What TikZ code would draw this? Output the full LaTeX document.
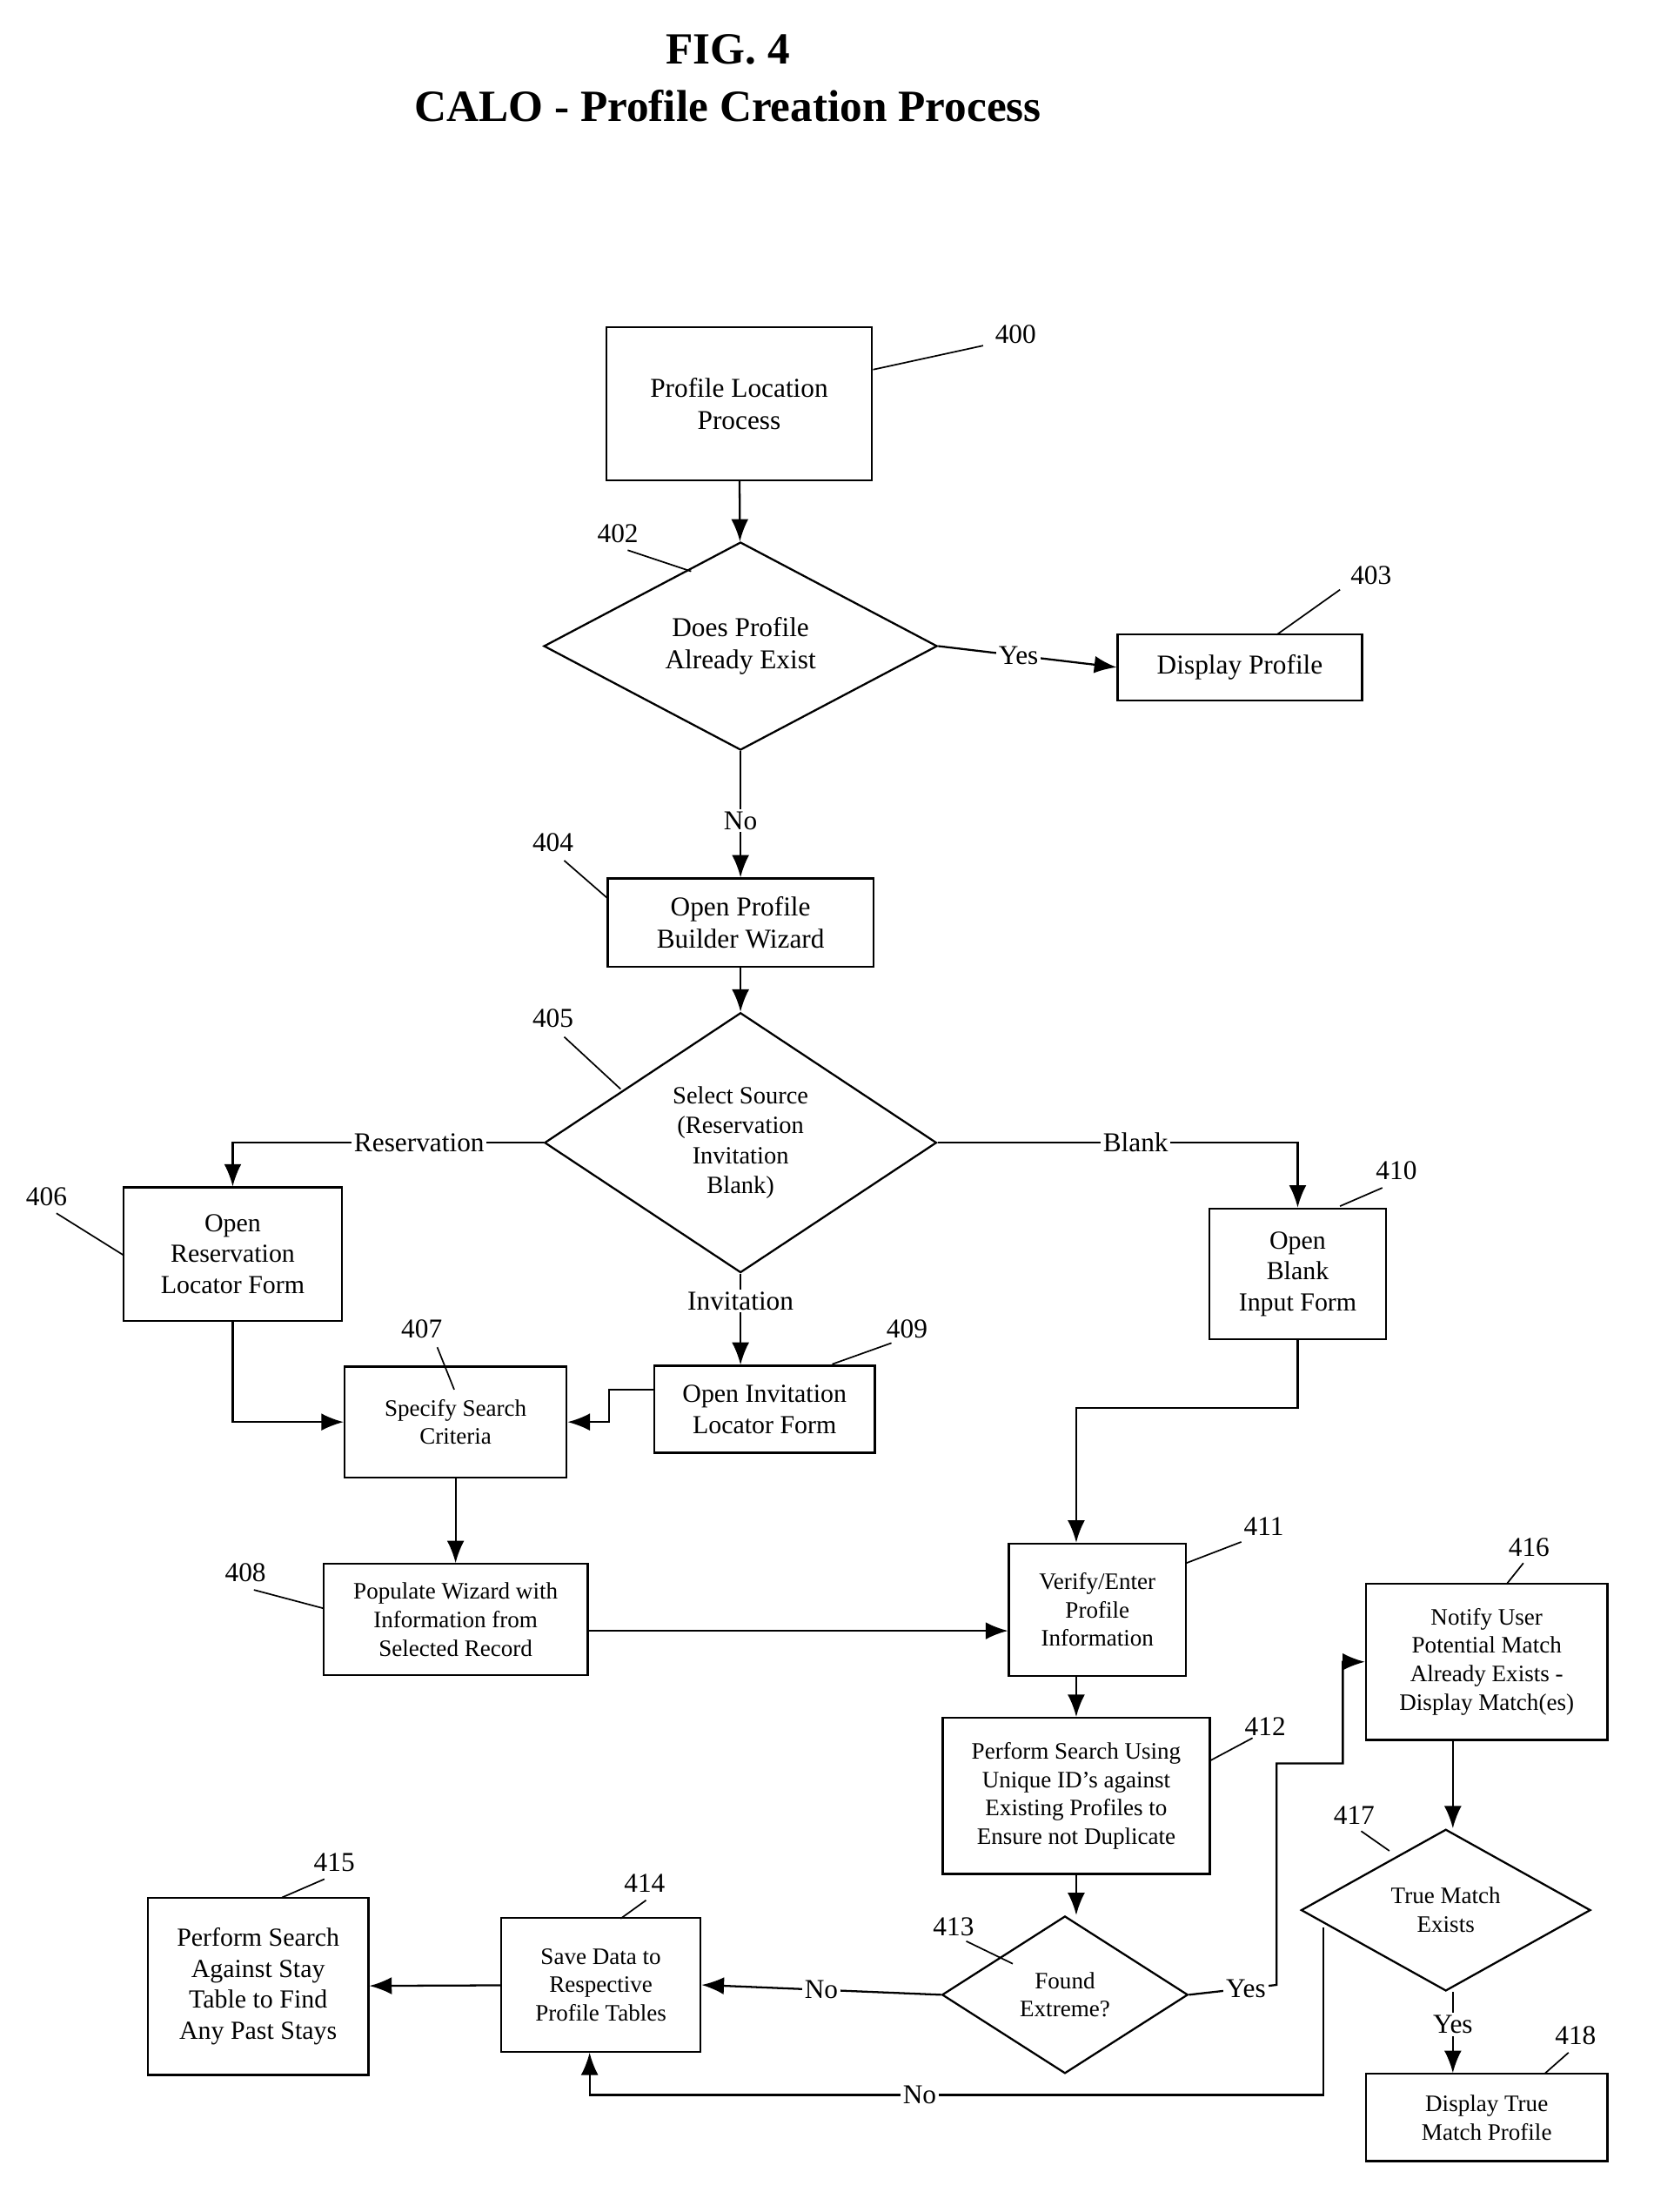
\documentclass[tikz,border=0pt]{standalone}
\usepackage{fontspec}
\setmainfont{Liberation Serif}
\usetikzlibrary{shapes.geometric,arrows.meta}
\begin{document}
\begin{tikzpicture}[x=0.02cm,y=-0.02cm,
  every node/.style={font=\fontsize{11}{13}\selectfont},
  sz/.style 2 args={minimum width=#1*0.567pt,minimum height=#2*0.567pt},
  box/.style={draw,line width=0.8pt,align=center,inner sep=2pt},
  sbox/.style={box,font=\fontsize{9.5}{11.5}\selectfont},
  dia/.style={draw,line width=0.8pt,diamond,align=center,inner sep=0pt},
  flow/.style={line width=0.8pt,-{Latex[length=9pt,width=7pt]}},
  ln/.style={line width=0.6pt},
  lbl/.style={fill=white,inner sep=1pt}]
\useasboundingbox (0,0) rectangle (1172,1568);
\node[font=\fontsize{18}{22}\bfseries\selectfont] (t1) at (516,35) {FIG. 4};
\node[font=\fontsize{18}{22}\bfseries\selectfont] (t2) at (516,75) {CALO - Profile Creation Process};

\node[box,sz={189}{109}] (n400) at (524,286) {Profile Location\\Process};
\node[dia,sz={280}{140}] (n402) at (525,458) {Does Profile\\Already Exist};
\node[box,sz={174}{47}] (n403) at (879,473) {Display Profile};
\node[box,sz={189}{63}] (n404) at (525,654) {Open Profile\\Builder Wizard};
\node[dia,sz={279}{185},font=\fontsize{10}{12}\selectfont] (n405) at (525,810) {Select Source\\(Reservation\\Invitation\\Blank)};
\node[sbox,sz={155}{95},font=\fontsize{10.5}{12.5}\selectfont] (n406) at (165,889) {Open\\Reservation\\Locator Form};
\node[sbox,sz={126}{93},font=\fontsize{10.5}{12.5}\selectfont] (n410) at (920,903) {Open\\Blank\\Input Form};
\node[sbox,sz={158}{79}] (n407) at (323,1008) {Specify Search\\Criteria};
\node[sbox,sz={157}{62},font=\fontsize{10.5}{12.5}\selectfont] (n409) at (542,999) {Open Invitation\\Locator Form};
\node[sbox,sz={188}{79}] (n408) at (323,1148) {Populate Wizard with\\Information from\\Selected Record};
\node[sbox,sz={126}{94}] (n411) at (778,1141) {Verify/Enter\\Profile\\Information};
\node[sbox,sz={190}{111}] (n412) at (763,1273) {Perform Search Using\\Unique ID's against\\Existing Profiles to\\Ensure not Duplicate};
\node[dia,sz={175}{112},font=\fontsize{9.5}{11.5}\selectfont] (n413) at (755,1414) {Found\\Extreme?};
\node[sbox,sz={142}{95}] (n414) at (426,1407) {Save Data to\\Respective\\Profile Tables};
\node[sbox,sz={157}{126},font=\fontsize{10.5}{12.5}\selectfont] (n415) at (183,1408) {Perform Search\\Against Stay\\Table to Find\\Any Past Stays};
\node[sbox,sz={172}{111}] (n416) at (1054,1178) {Notify User\\Potential Match\\Already Exists -\\Display Match(es)};
\node[dia,sz={206}{115},font=\fontsize{9.5}{11.5}\selectfont] (n417) at (1025,1354) {True Match\\Exists};
\node[sbox,sz={172}{62}] (n418) at (1054,1501) {Display True\\Match Profile};

\draw[flow] (n400) -- (n402);
\draw[flow] (n402.east) -- node[lbl,pos=0.45] (lyes1) {Yes} (n403.west);
\draw[flow] (n402.south) -- node[lbl,pos=0.55] (lno1) {No} (n404.north);
\draw[flow] (n404) -- (n405);
\draw[flow] (n405.west) -- node[lbl,pos=0.4] (lres) {Reservation} (165,810) -- (n406.north);
\draw[flow] (n405.east) -- node[lbl,pos=0.55] (lblank) {Blank} (920,810) -- (n410.north);
\draw[flow] (n405.south) -- node[lbl,pos=0.3] (linv) {Invitation} (n409.north -| n405.south);
\draw[flow] (n406.south) |- (n407.west);
\draw[flow] (n409.west |- 0,985) -- (432,985) |- (n407.east);
\draw[flow] (n407) -- (n408);
\draw[flow] (n410.south) |- (763,998) -- (n411.north -| 763,0);
\draw[flow] (n408.east |- 0,1156) -- (n411.west |- 0,1156);
\draw[flow] (n411.south -| 763,0) -- (n412.north -| 763,0);
\draw[flow] (n412.south -| 763,0) -- (n413.north -| 763,0);
\draw[flow] (n413.west) -- node[lbl] (lno2) {No} (n414.east);
\draw[flow] (n414) -- (n415);
\draw[flow] (n413.east) -- node[lbl,pos=0.65] (lyes2) {Yes} (905,1407) -- (905,1250) -- (952,1250) |- (n416.west);
\draw[flow] (n416.south -| 1030,0) -- (n417.north -| 1030,0);
\draw[flow] (n417.south -| 1030,0) -- node[lbl,pos=0.4] (lyes3) {Yes} (n418.north -| 1030,0);
\coordinate (c417) at (938,1366);
\draw[flow] (c417) -- (938,1485) -- node[lbl,pos=0.55] (lno3) {No} (418,1485) -- (n414.south -| 418,0);

\node (r400) at (720,237) {400}; \draw[ln] (619,262) -- (697,245);
\node (r402) at (438,378) {402}; \draw[ln] (445,390) -- (490,405);
\node (r403) at (972,408) {403}; \draw[ln] (905,450) -- (950,418);
\node (r404) at (392,597) {404}; \draw[ln] (400,610) -- (431,637);
\node (r405) at (392,722) {405}; \draw[ln] (400,735) -- (440,772);
\node (r406) at (33,848) {406}; \draw[ln] (40,860) -- (88,890);
\node (r407) at (299,942) {407}; \draw[ln] (310,955) -- (322,985);
\node (r409) at (643,942) {409}; \draw[ln] (590,967) -- (632,952);
\node (r410) at (990,830) {410}; \draw[ln] (950,855) -- (980,842);
\node (r408) at (174,1115) {408}; \draw[ln] (180,1127) -- (229,1140);
\node (r411) at (896,1082) {411}; \draw[ln] (841,1108) -- (880,1093);
\node (r412) at (897,1224) {412}; \draw[ln] (858,1248) -- (888,1232);
\node (r413) at (676,1366) {413}; \draw[ln] (685,1376) -- (718,1392);
\node (r414) at (457,1335) {414}; \draw[ln] (440,1360) -- (458,1347);
\node (r415) at (237,1320) {415}; \draw[ln] (200,1345) -- (230,1332);
\node (r416) at (1084,1097) {416}; \draw[ln] (1068,1123) -- (1080,1108);
\node (r417) at (960,1287) {417}; \draw[ln] (965,1298) -- (985,1312);
\node (r418) at (1117,1443) {418}; \draw[ln] (1095,1470) -- (1112,1455);
\end{tikzpicture}
\end{document}
